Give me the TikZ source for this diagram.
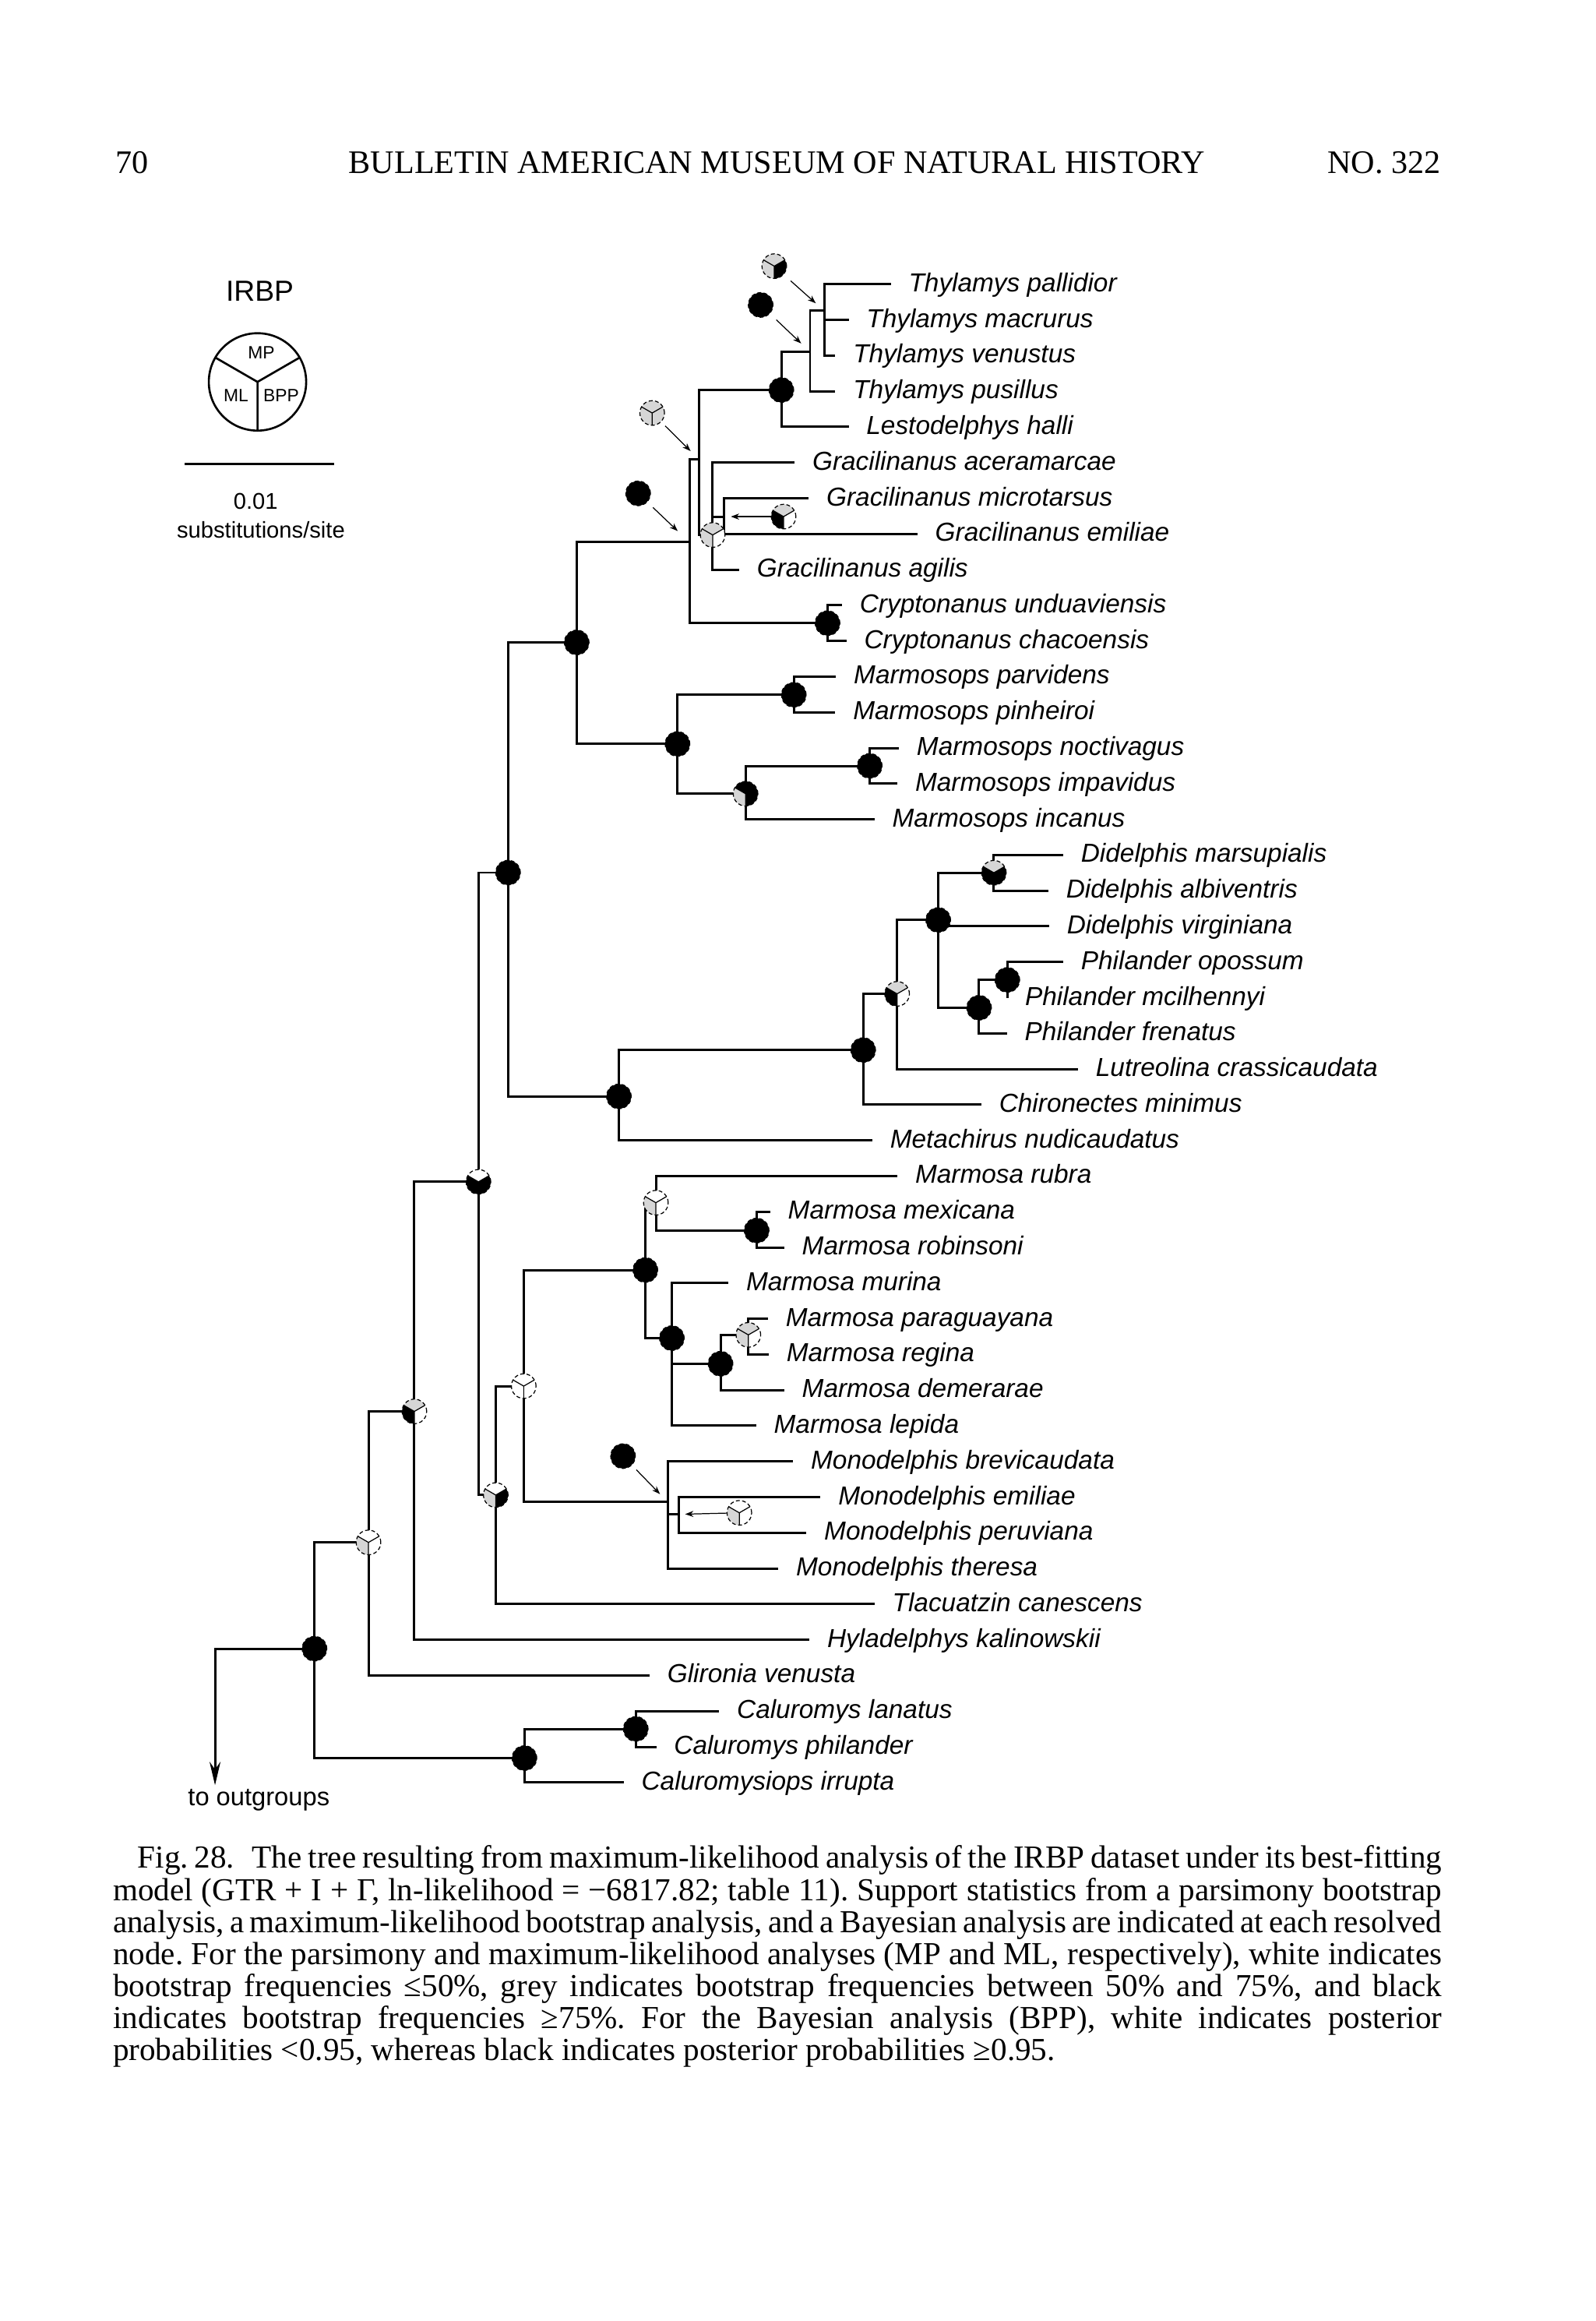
\documentclass[tikz,border=0pt]{standalone}
\usepackage{fontspec}
\setmainfont{Liberation Serif}
\newfontfamily\taxfont{Liberation Sans}
\usetikzlibrary{arrows.meta}

\definecolor{boot}{gray}{0.84}
\newcommand{\pierad}{0.158cm}
% support pie: #1 = point, #2 = MP, #3 = ML, #4 = BPP
\newcommand{\supp}[4]{%
  \fill[#2] (#1) -- ++(30:\pierad) arc[start angle=30,end angle=150,radius=\pierad] -- cycle;
  \fill[#3] (#1) -- ++(150:\pierad) arc[start angle=150,end angle=270,radius=\pierad] -- cycle;
  \fill[#4] (#1) -- ++(270:\pierad) arc[start angle=270,end angle=390,radius=\pierad] -- cycle;
  \draw[line width=0.35pt] (#1) -- ++(30:\pierad) (#1) -- ++(150:\pierad) (#1) -- ++(270:\pierad);
  \draw[line width=0.35pt,dash pattern=on 1.4pt off 0.9pt] (#1) circle[radius=\pierad];
}

\tikzset{
  br/.style={line width=0.85pt},
  tax/.style={font=\taxfont\itshape\fontsize{9.5}{11}\selectfont, anchor=west,
    inner sep=0pt, outer xsep=0.228cm, text height=6.8pt, text depth=1.4pt},
  pointer/.style={line width=0.35pt, -{Stealth[length=3pt,width=2.2pt]}},
  head/.style={font=\fontsize{12}{14}\selectfont, inner sep=0pt},
  keylab/.style={font=\taxfont\fontsize{6.5}{8}\selectfont, inner sep=0pt},
  keytxt/.style={font=\taxfont\fontsize{8.3}{10}\selectfont, inner sep=0pt},
}

\begin{document}
\begin{tikzpicture}[x=0.019cm,y=-0.019cm]
  \useasboundingbox[fill=white] (0,0) rectangle (1078,1568);

  % running head
  \node[head, anchor=base west] (folio) at (78,117) {70};
  \node[head, anchor=base] (runhead) at (525,117) {BULLETIN AMERICAN MUSEUM OF NATURAL HISTORY};
  \node[head, anchor=base east] (issue) at (974,117) {NO. 322};

  % legend
  \node[font=\taxfont\fontsize{10.6}{12}\selectfont, inner sep=0pt] (irbp) at (175.6,196.8) {IRBP};
  \coordinate (key) at (174,258);
  \draw[line width=0.75pt] (key) circle[radius=0.625cm];
  \draw[line width=0.75pt] (key) -- ++(30:0.625cm) (key) -- ++(150:0.625cm) (key) -- ++(270:0.625cm);
  \node[keylab] (kmp) at (176.6,238) {MP};
  \node[keylab] (kml) at (159.5,267) {ML};
  \node[keylab] (kbpp) at (190,267) {BPP};
  \draw[line width=0.85pt] (124.9,313.2) -- (226,313.2);
  \node[keytxt] (sbval) at (172.8,338.6) {0.01};
  \node[keytxt] (sbunit) at (176.3,357.9) {substitutions/site};

  % internal nodes
  \coordinate (thyl3) at (557,210);
  \coordinate (thyl4) at (547.4,237.7);
  \coordinate (thylest) at (528,263.5);
  \coordinate (grac) at (481.6,361.4);
  \coordinate (gracme) at (489.1,349);
  \coordinate (thygra) at (472.5,310.5);
  \coordinate (thygracry) at (465.9,366.3);
  \coordinate (cryp) at (559.2,421);
  \coordinate (thylamyini) at (389.7,434);
  \coordinate (mops) at (457.8,502.6);
  \coordinate (mopsA) at (536.4,469.4);
  \coordinate (mopsB) at (503.8,536.2);
  \coordinate (mopsC) at (587.7,517.4);
  \coordinate (didthy) at (343.3,589.5);
  \coordinate (didmet) at (418.2,740.7);
  \coordinate (didchi) at (583.3,709.4);
  \coordinate (didlut) at (606.2,671.4);
  \coordinate (didphi) at (634,621.5);
  \coordinate (didel) at (671.6,589.6);
  \coordinate (phil) at (661.6,680.8);
  \coordinate (philA) at (680.7,662);
  \coordinate (core) at (323.3,798.4);
  \coordinate (cornhy) at (280,953.5);
  \coordinate (corgl) at (249,1042);
  \coordinate (root) at (212.5,1113.8);
  \coordinate (martla) at (335,1010);
  \coordinate (marmon) at (353.9,936.4);
  \coordinate (marm) at (436.1,858);
  \coordinate (marmA) at (443.2,812.5);
  \coordinate (marmB) at (511.3,831.3);
  \coordinate (marmC) at (454,904);
  \coordinate (marmD) at (486.9,921.3);
  \coordinate (marmE) at (505.7,901.8);
  \coordinate (mono) at (451.1,1014.6);
  \coordinate (monoA) at (458.7,1023);
  \coordinate (calu) at (354.4,1187.7);
  \coordinate (caluA) at (429.6,1168);
  \coordinate (outg) at (145.3,1206);

  % taxa
  \node[tax] (pall) at (602,192.0) {Thylamys pallidior};
  \node[tax] (macr) at (573.5,216.1) {Thylamys macrurus};
  \node[tax] (venu) at (564.5,240.2) {Thylamys venustus};
  \node[tax] (pusi) at (564.5,264.3) {Thylamys pusillus};
  \node[tax] (lest) at (573.5,288.4) {Lestodelphys halli};
  \node[tax] (acer) at (537,312.5) {Gracilinanus aceramarcae};
  \node[tax] (micr) at (546.5,336.6) {Gracilinanus microtarsus};
  \node[tax] (gemi) at (620,360.7) {Gracilinanus emiliae};
  \node[tax] (agil) at (499.5,384.8) {Gracilinanus agilis};
  \node[tax] (undu) at (569,408.9) {Cryptonanus unduaviensis};
  \node[tax] (chac) at (572,433.0) {Cryptonanus chacoensis};
  \node[tax] (parv) at (565,457.1) {Marmosops parvidens};
  \node[tax] (pinh) at (564.5,481.2) {Marmosops pinheiroi};
  \node[tax] (noct) at (607.5,505.3) {Marmosops noctivagus};
  \node[tax] (impa) at (606.5,529.4) {Marmosops impavidus};
  \node[tax] (inca) at (591,553.5) {Marmosops incanus};
  \node[tax] (mars) at (718.5,577.6) {Didelphis marsupialis};
  \node[tax] (albi) at (708.5,601.7) {Didelphis albiventris};
  \node[tax] (virg) at (709,625.8) {Didelphis virginiana};
  \node[tax] (opos) at (718.5,649.9) {Philander opossum};
  \node[tax] (mcil) at (680.7,674.0) {Philander mcilhennyi};
  \node[tax] (fren) at (680.5,698.1) {Philander frenatus};
  \node[tax] (lutr) at (728.5,722.2) {Lutreolina crassicaudata};
  \node[tax] (chir) at (663.2,746.3) {Chironectes minimus};
  \node[tax] (meta) at (589.5,770.4) {Metachirus nudicaudatus};
  \node[tax] (rubr) at (606.5,794.5) {Marmosa rubra};
  \node[tax] (mexi) at (520.5,818.6) {Marmosa mexicana};
  \node[tax] (robi) at (530,842.7) {Marmosa robinsoni};
  \node[tax] (muri) at (492.3,866.8) {Marmosa murina};
  \node[tax] (para) at (519,890.9) {Marmosa paraguayana};
  \node[tax] (regi) at (519.5,915.0) {Marmosa regina};
  \node[tax] (deme) at (530,939.1) {Marmosa demerarae};
  \node[tax] (lepi) at (511,963.2) {Marmosa lepida};
  \node[tax] (brev) at (536,987.3) {Monodelphis brevicaudata};
  \node[tax] (memi) at (554.5,1011.4) {Monodelphis emiliae};
  \node[tax] (peru) at (545,1035.5) {Monodelphis peruviana};
  \node[tax] (ther) at (526,1059.6) {Monodelphis theresa};
  \node[tax] (tlac) at (591,1083.7) {Tlacuatzin canescens};
  \node[tax] (hyla) at (547,1107.8) {Hyladelphys kalinowskii};
  \node[tax] (glir) at (439,1131.9) {Glironia venusta};
  \node[tax] (lana) at (486,1156.0) {Caluromys lanatus};
  \node[tax] (cphi) at (443.5,1180.1) {Caluromys philander};
  \node[tax] (irru) at (421.5,1204.2) {Caluromysiops irrupta};

  % branches
  \draw[br] (thyl3) |- (pall) (thyl3) |- (macr) (thyl3) |- (venu);
  \draw[br] (thyl4) |- (thyl3) (thyl4) |- (pusi);
  \draw[br] (thylest) |- (thyl4) (thylest) |- (lest);
  \draw[br] (gracme) |- (micr) (gracme) |- (gemi);
  \draw[br] (grac) |- (acer) (grac) |- (gracme) (grac) |- (agil);
  \draw[br] (thygra) |- (thylest) (thygra) |- (grac);
  \draw[br] (cryp) |- (undu) (cryp) |- (chac);
  \draw[br] (thygracry) |- (thygra) (thygracry) |- (cryp);
  \draw[br] (mopsA) |- (parv) (mopsA) |- (pinh);
  \draw[br] (mopsC) |- (noct) (mopsC) |- (impa);
  \draw[br] (mopsB) |- (mopsC) (mopsB) |- (inca);
  \draw[br] (mops) |- (mopsA) (mops) |- (mopsB);
  \draw[br] (thylamyini) |- (thygracry) (thylamyini) |- (mops);
  \draw[br] (didel) |- (mars) (didel) |- (albi);
  \draw[br] (philA) |- (opos) (philA) |- (mcil);
  \draw[br] (phil) |- (philA) (phil) |- (fren);
  \draw[br] (didphi) |- (didel) (didphi) |- (virg) (didphi) |- (phil);
  \draw[br] (didlut) |- (didphi) (didlut) |- (lutr);
  \draw[br] (didchi) |- (didlut) (didchi) |- (chir);
  \draw[br] (didmet) |- (didchi) (didmet) |- (meta);
  \draw[br] (didthy) |- (thylamyini) (didthy) |- (didmet);
  \draw[br] (marmB) |- (mexi) (marmB) |- (robi);
  \draw[br] (marmA) |- (rubr) (marmA) |- (marmB);
  \draw[br] (marmE) |- (para) (marmE) |- (regi);
  \draw[br] (marmD) |- (marmE) (marmD) |- (deme);
  \draw[br] (marmC) |- (muri) (marmC) |- (marmD) (marmC) |- (lepi);
  \draw[br] (marm) |- (marmA) (marm) |- (marmC);
  \draw[br] (monoA) |- (memi) (monoA) |- (peru);
  \draw[br] (mono) |- (brev) (mono) |- (monoA) (mono) |- (ther);
  \draw[br] (marmon) |- (marm) (marmon) |- (mono);
  \draw[br] (martla) |- (marmon) (martla) |- (tlac);
  \draw[br] (core) |- (didthy) (core) |- (martla);
  \draw[br] (cornhy) |- (core) (cornhy) |- (hyla);
  \draw[br] (corgl) |- (cornhy) (corgl) |- (glir);
  \draw[br] (caluA) |- (lana) (caluA) |- (cphi);
  \draw[br] (calu) |- (caluA) (calu) |- (irru);
  \draw[br] (root) |- (corgl) (root) |- (calu);
  \draw[br, -{Stealth[length=0.3cm,width=0.14cm]}] (root) -| (outg);
  \node[font=\taxfont\fontsize{9.3}{11}\selectfont, inner sep=0pt] (toout) at (174.9,1216.2) {to outgroups};

  % support values on the nodes
  \supp{thylest}{black}{black}{black}
  \supp{grac}{boot}{boot}{white}
  \supp{cryp}{black}{black}{black}
  \supp{thylamyini}{black}{black}{black}
  \supp{mops}{black}{black}{black}
  \supp{mopsA}{black}{black}{black}
  \supp{mopsB}{black}{boot}{black}
  \supp{mopsC}{black}{black}{black}
  \supp{didthy}{black}{black}{black}
  \supp{didmet}{black}{black}{black}
  \supp{didchi}{black}{black}{black}
  \supp{didlut}{boot}{black}{white}
  \supp{didphi}{black}{black}{black}
  \supp{didel}{boot}{black}{black}
  \supp{phil}{black}{black}{black}
  \supp{philA}{black}{black}{black}
  \supp{core}{white}{black}{black}
  \supp{cornhy}{boot}{black}{white}
  \supp{corgl}{white}{boot}{white}
  \supp{root}{black}{black}{black}
  \supp{martla}{white}{boot}{black}
  \supp{marmon}{white}{white}{white}
  \supp{marm}{black}{black}{black}
  \supp{marmA}{white}{boot}{white}
  \supp{marmB}{black}{black}{black}
  \supp{marmC}{black}{black}{black}
  \supp{marmD}{black}{black}{black}
  \supp{marmE}{boot}{boot}{white}
  \supp{calu}{black}{black}{black}
  \supp{caluA}{black}{black}{black}

  % support values set off with pointers
  \coordinate (s-thyl3) at (523.2,179.8);
  \coordinate (s-thyl4) at (514,206);
  \coordinate (s-thygra) at (440.7,279);
  \coordinate (s-thygracry) at (431.2,333.3);
  \coordinate (s-gracme) at (529.5,349);
  \coordinate (s-mono) at (421,983.7);
  \coordinate (s-monoA) at (499.6,1022);
  \supp{s-thyl3}{boot}{boot}{black}
  \supp{s-thyl4}{black}{black}{black}
  \supp{s-thygra}{boot}{boot}{boot}
  \supp{s-thygracry}{black}{black}{black}
  \supp{s-gracme}{boot}{black}{white}
  \supp{s-mono}{black}{black}{black}
  \supp{s-monoA}{white}{boot}{white}
  \draw[pointer, shorten <=0.283cm, shorten >=0.146cm] (s-thyl3) -- (thyl3);
  \draw[pointer, shorten <=0.278cm, shorten >=0.157cm] (s-thyl4) -- (thyl4);
  \draw[pointer, shorten <=0.235cm, shorten >=0.156cm] (s-thygra) -- (thygra);
  \draw[pointer, shorten <=0.262cm, shorten >=0.208cm] (s-thygracry) -- (thygracry);
  \draw[pointer, shorten <=0.16cm, shorten >=0.091cm] (s-gracme) -- (gracme);
  \draw[pointer, shorten <=0.245cm, shorten >=0.139cm] (s-mono) -- (mono);
  \draw[pointer, shorten <=0.152cm, shorten >=0.082cm] (s-monoA) -- (monoA);

  % caption
  \node[anchor=base west, inner sep=0pt, align=left, font=\fontsize{11.7}{11.7}\selectfont\frenchspacing] (caption) at (76,1392) {%
    \makebox[17.06cm][s]{\hspace*{9pt}Fig. 28.\hspace{0.55em}The tree resulting from maximum-likelihood analysis of the IRBP dataset under its best-fitting}\\
    \makebox[17.06cm][s]{model (GTR + I + Γ, ln-likelihood = −6817.82; table 11). Support statistics from a parsimony bootstrap}\\
    \makebox[17.06cm][s]{analysis, a maximum-likelihood bootstrap analysis, and a Bayesian analysis are indicated at each resolved}\\
    \makebox[17.06cm][s]{node. For the parsimony and maximum-likelihood analyses (MP and ML, respectively), white indicates}\\
    \makebox[17.06cm][s]{bootstrap frequencies ≤50\%, grey indicates bootstrap frequencies between 50\% and 75\%, and black}\\
    \makebox[17.06cm][s]{indicates bootstrap frequencies ≥75\%. For the Bayesian analysis (BPP), white indicates posterior}\\
    probabilities <0.95, whereas black indicates posterior probabilities ≥0.95.};
\end{tikzpicture}
\end{document}
